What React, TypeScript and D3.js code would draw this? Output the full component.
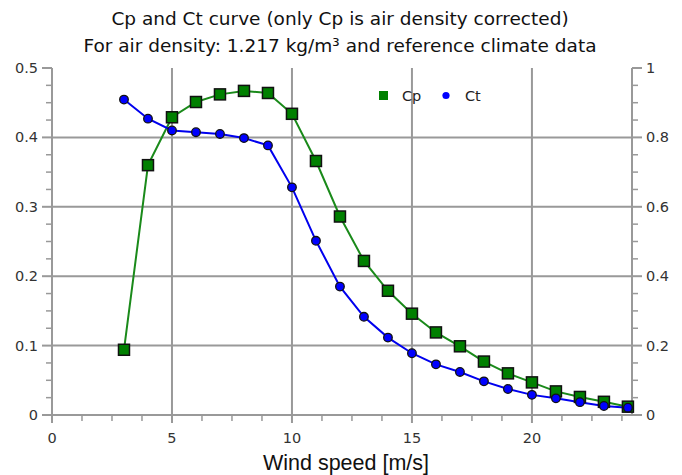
import React from "react";
import * as d3 from "d3";

const windSpeed = [3, 4, 5, 6, 7, 8, 9, 10, 11, 12, 13, 14, 15, 16, 17, 18, 19, 20, 21, 22, 23, 24];
const cpValues = [0.094, 0.36, 0.429, 0.451, 0.462, 0.467, 0.464, 0.434, 0.366, 0.286, 0.222, 0.179, 0.146, 0.119, 0.099, 0.077, 0.06, 0.047, 0.034, 0.026, 0.019, 0.012];
const ctValues = [0.909, 0.854, 0.82, 0.815, 0.81, 0.798, 0.777, 0.656, 0.502, 0.37, 0.283, 0.223, 0.178, 0.146, 0.124, 0.097, 0.075, 0.058, 0.048, 0.037, 0.026, 0.021];
const xTicks = [0, 5, 10, 15, 20];
const yLeftTicks = [0, 0.1, 0.2, 0.3, 0.4, 0.5];
const yRightTicks = [0, 0.2, 0.4, 0.6, 0.8, 1];
const titleLines = ["Cp and Ct curve (only Cp is air density corrected)", "For air density: 1.217 kg/m³ and reference climate data"];
const xTitle = "Wind speed [m/s]";

const W = 682, H = 475;
const left = 52, right = 632, top = 68, bottom = 415;
const GRID = "#999999";
const FONT = "Tahoma, 'DejaVu Sans', sans-serif";

export default function App() {
  const x = d3.scaleLinear().domain([0, 24.17]).range([left, right]);
  const yL = d3.scaleLinear().domain([0, 0.5]).range([bottom, top]);
  const yR = d3.scaleLinear().domain([0, 1]).range([bottom, top]);

  const xMinor = d3.range(0, 24.1, 1.25).filter((v) => Math.abs(v % 5) > 1e-6);
  const yLMinor = d3.range(0, 0.5, 0.025).filter((v) => Math.abs(Math.round(v * 10) - v * 10) > 1e-6);
  const yRMinor = d3.range(0, 1, 0.05).filter((v) => Math.abs(Math.round(v * 5) - v * 5) > 1e-6);

  const cpLine = d3.line<number>().x((_, i) => x(windSpeed[i])).y((d) => yL(d)).curve(d3.curveLinear);
  const ctLine = d3.line<number>().x((_, i) => x(windSpeed[i])).y((d) => yR(d)).curve(d3.curveLinear);

  return (
    <svg width={W} height={H} style={{ position: "absolute", left: 0, top: 0, background: "#fff" }}>
      <rect width={W} height={H} fill="#fff" />
      {titleLines.map((t, i) => (
        <text key={t} x={340} y={25 + i * 27} textAnchor="middle" fontFamily={FONT} fontSize={18.5} fill="#111">{t}</text>
      ))}
      {/* grid */}
      {xTicks.filter((v) => v > 0).map((v) => (
        <line key={"gx" + v} x1={x(v)} x2={x(v)} y1={top} y2={bottom} stroke={GRID} strokeWidth={2} />
      ))}
      {yLeftTicks.filter((v) => v > 0 && v < 0.5).map((v) => (
        <line key={"gy" + v} x1={left} x2={right} y1={yL(v)} y2={yL(v)} stroke={GRID} strokeWidth={2} />
      ))}
      {/* axes */}
      <line x1={left} x2={right} y1={bottom} y2={bottom} stroke={GRID} strokeWidth={2} />
      <line x1={left} x2={left} y1={top} y2={bottom} stroke={GRID} strokeWidth={2} />
      <line x1={right} x2={right} y1={top} y2={bottom} stroke={GRID} strokeWidth={2} />
      {xTicks.map((v) => (
        <g key={"xt" + v}>
          <line x1={x(v)} x2={x(v)} y1={bottom} y2={bottom + 8} stroke={GRID} strokeWidth={2} />
          <text x={x(v)} y={443} textAnchor="middle" fontFamily={FONT} fontSize={14.5} fill="#333">{v}</text>
        </g>
      ))}
      {xMinor.map((v) => (
        <line key={"xm" + v} x1={x(v)} x2={x(v)} y1={bottom} y2={bottom + 6} stroke={GRID} strokeWidth={1.5} />
      ))}
      {yLeftTicks.map((v) => (
        <g key={"yl" + v}>
          <line x1={left - 10} x2={left} y1={yL(v)} y2={yL(v)} stroke={GRID} strokeWidth={2} />
          <text x={38} y={yL(v) + 5} textAnchor="end" fontFamily={FONT} fontSize={14.5} fill="#333">{v}</text>
        </g>
      ))}
      {yLMinor.map((v) => (
        <line key={"ylm" + v} x1={left - 6} x2={left} y1={yL(v)} y2={yL(v)} stroke={GRID} strokeWidth={1.5} />
      ))}
      {yRightTicks.map((v) => (
        <g key={"yr" + v}>
          <line x1={right} x2={right + 10} y1={yR(v)} y2={yR(v)} stroke={GRID} strokeWidth={2} />
          <text x={646} y={yR(v) + 5} textAnchor="start" fontFamily={FONT} fontSize={14.5} fill="#333">{v}</text>
        </g>
      ))}
      {yRMinor.map((v) => (
        <line key={"yrm" + v} x1={right} x2={right + 6} y1={yR(v)} y2={yR(v)} stroke={GRID} strokeWidth={1.5} />
      ))}
      <text x={346} y={470} textAnchor="middle" fontFamily="'Liberation Sans', Arial, sans-serif" fontSize={21.5} fill="#111">{xTitle}</text>
      {/* series */}
      <path d={cpLine(cpValues) || ""} fill="none" stroke="#1a8a1a" strokeWidth={2} />
      <path d={ctLine(ctValues) || ""} fill="none" stroke="#0000ee" strokeWidth={2} />
      {cpValues.map((v, i) => (
        <rect key={"cp" + i} x={x(windSpeed[i]) - 5.5} y={yL(v) - 5.5} width={11} height={11} fill="#008000" stroke="#111" strokeWidth={1.5} />
      ))}
      {ctValues.map((v, i) => (
        <circle key={"ct" + i} cx={x(windSpeed[i])} cy={yR(v)} r={4.3} fill="#0000ff" stroke="#111" strokeWidth={1.3} />
      ))}
      {/* legend */}
      <rect x={379} y={91} width={9} height={9} fill="#008000" />
      <text x={402} y={101} fontFamily={FONT} fontSize={14.5} fill="#222">Cp</text>
      <circle cx={446} cy={95.5} r={3.6} fill="#0000ff" />
      <text x={465} y={101} fontFamily={FONT} fontSize={14.5} fill="#222">Ct</text>
    </svg>
  );
}
